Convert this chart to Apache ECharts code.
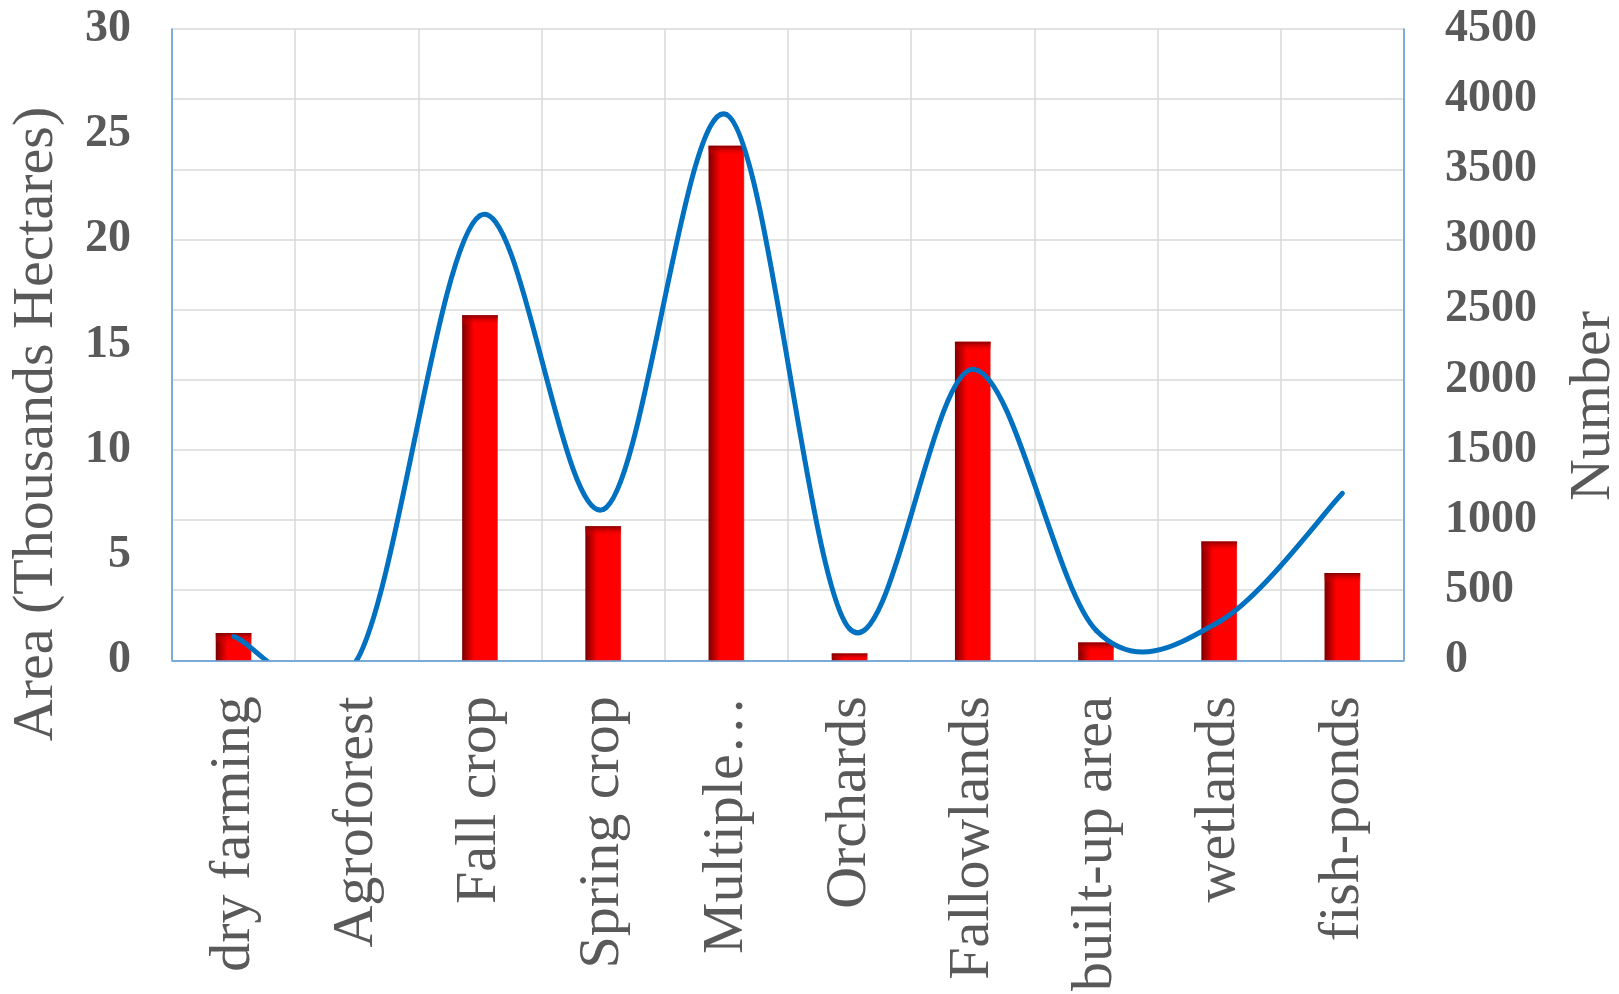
<!DOCTYPE html>
<html>
<head>
<meta charset="utf-8">
<script src="https://cdn.jsdelivr.net/npm/echarts@6/dist/echarts.min.js"></script>
<style>
html,body{margin:0;padding:0;background:#fff;}
#chart{width:1619px;height:994px;}
</style>
</head>
<body>
<div id="chart"></div>
<script>
const categories = ['dry farming','Agroforest','Fall crop','Spring crop','Multiple\u2026','Orchards','Fallowlands','built-up area','wetlands','fish-ponds'];
const areaValues = [1.3, 0, 16.4, 6.37, 24.45, 0.32, 15.14, 0.85, 5.65, 4.15];
const numberValues = [170, 0, 3170, 1075, 3890, 225, 2075, 215, 275, 1190];
const leftTicks = {min: 0, max: 30, interval: 5};
const rightTicks = {min: 0, max: 4500, interval: 500};
const leftTitle = 'Area (Thousands Hectares)';
const rightTitle = 'Number';

const grey = '#595959';
const blue = '#5B9BD5';
const serif = '"Liberation Serif", "Times New Roman", serif';
const BAR_RATIO = 0.29;
const chart = echarts.init(document.getElementById('chart'));

// Excel-style smoothed line: cubic Bezier through the data points (Catmull-Rom tangents)
function renderSmoothLine(params, api) {
  if (params.dataIndex !== 0) return null;
  const pts = numberValues.map((v, i) => api.coord([i, v]));
  const n = pts.length;
  const tangent = (i) => {
    const a = pts[Math.max(0, i - 1)], b = pts[Math.min(n - 1, i + 1)];
    return [(b[0] - a[0]) / 6, (b[1] - a[1]) / 6];
  };
  const children = [];
  for (let i = 0; i < n - 1; i++) {
    const t0 = tangent(i), t1 = tangent(i + 1);
    children.push({
      type: 'bezierCurve',
      shape: {
        x1: pts[i][0], y1: pts[i][1],
        cpx1: pts[i][0] + t0[0], cpy1: pts[i][1] + t0[1],
        cpx2: pts[i + 1][0] - t1[0], cpy2: pts[i + 1][1] - t1[1],
        x2: pts[i + 1][0], y2: pts[i + 1][1]
      },
      style: {stroke: '#0070C0', lineWidth: 5, fill: null, lineCap: 'round'}
    });
  }
  return {type: 'group', children: children};
}

// dark shading along the top edge of each bar (Excel bevel look)
function renderBarTopShade(params, api) {
  const v = api.value(1);
  if (!v) return null;
  const top = api.coord([api.value(0), v]);
  const base = api.coord([api.value(0), 0]);
  const w = api.size([1, 0])[0] * BAR_RATIO;
  const h = Math.min(10, base[1] - top[1]);
  return {
    type: 'rect',
    shape: {x: top[0] - w / 2, y: top[1], width: w, height: h},
    style: {fill: new echarts.graphic.LinearGradient(0, 0, 0, 1, [
      {offset: 0, color: 'rgba(125,0,0,0.95)'}, {offset: 1, color: 'rgba(255,0,0,0)'}])}
  };
}

chart.setOption({
  animation: false,
  backgroundColor: '#fff',
  grid: {left: 172, right: 215, top: 29, bottom: 333},
  xAxis: [{
    type: 'category', data: categories,
    axisLine: {lineStyle: {color: '#D9D9D9', width: 2}},
    axisTick: {show: false},
    splitLine: {show: true, lineStyle: {color: '#D9D9D9', width: 1.5}},
    axisLabel: {rotate: 90, margin: 36, interval: 0, color: grey, fontFamily: serif, fontSize: 58}
  }, {
    type: 'category', data: categories, position: 'top',
    axisLine: {lineStyle: {color: blue, width: 1.5}},
    axisTick: {show: false}, axisLabel: {show: false}, splitLine: {show: false}
  }],
  yAxis: [
    {type: 'value', min: leftTicks.min, max: leftTicks.max, interval: leftTicks.interval,
     axisLine: {show: true, lineStyle: {color: blue, width: 1.5}}, axisTick: {show: false}, splitLine: {show: false},
     axisLabel: {margin: 41, color: grey, fontFamily: serif, fontSize: 46, fontWeight: 'bold'}},
    {type: 'value', min: rightTicks.min, max: rightTicks.max, interval: rightTicks.interval,
     axisLine: {show: true, lineStyle: {color: blue, width: 1.5}}, axisTick: {show: false},
     splitLine: {show: true, lineStyle: {color: '#D9D9D9', width: 1.5}},
     axisLabel: {margin: 41, color: grey, fontFamily: serif, fontSize: 46, fontWeight: 'bold',
                 formatter: (v) => String(v)}}
  ],
  graphic: [
    {type: 'text', x: 37, y: 424, rotation: Math.PI / 2,
     style: {text: leftTitle, fill: grey, font: '58px ' + serif, align: 'center', verticalAlign: 'middle'}},
    {type: 'text', x: 1594, y: 406, rotation: Math.PI / 2,
     style: {text: rightTitle, fill: grey, font: '58px ' + serif, align: 'center', verticalAlign: 'middle'}}
  ],
  series: [
    {type: 'bar', yAxisIndex: 0, data: areaValues, barWidth: (BAR_RATIO * 100) + '%',
     itemStyle: {color: new echarts.graphic.LinearGradient(0, 0, 1, 0, [
       {offset: 0, color: '#7A0000'}, {offset: 0.33, color: '#FF0000'}, {offset: 0.97, color: '#FF0000'}, {offset: 1, color: '#FF5050'}])}},
    {type: 'custom', yAxisIndex: 0, coordinateSystem: 'cartesian2d', z: 3,
     data: areaValues.map((v, i) => [i, v]), encode: {x: 0, y: 1},
     renderItem: renderBarTopShade, silent: true},
    {type: 'custom', yAxisIndex: 1, coordinateSystem: 'cartesian2d', clip: true, z: 4,
     data: numberValues.map((v, i) => [i, v]), encode: {x: 0, y: 1},
     renderItem: renderSmoothLine}
  ]
});
</script>
</body>
</html>
